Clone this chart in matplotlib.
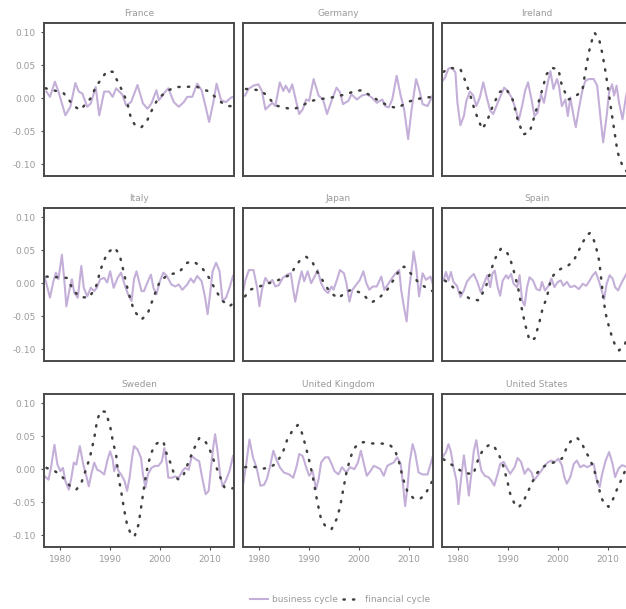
import matplotlib
matplotlib.use("Agg")
import matplotlib.pyplot as plt

# ---- data (year, cycle value) ----
countries = ["France", "Germany", "Ireland", "Italy", "Japan", "Spain",
             "Sweden", "United Kingdom", "United States"]

france_bc_year = [1977.2, 1977.9, 1978.9, 1979.6, 1981.0, 1982.0, 1983.0, 1983.7, 1984.4, 1985.4,
                  1986.1, 1987.1, 1987.8, 1988.8, 1989.8, 1990.5, 1991.2, 1992.5, 1993.2, 1994.2,
                  1995.5, 1996.6, 1997.5, 1998.3, 1999.3, 1999.8, 2001.1, 2001.7, 2002.8, 2003.8,
                  2004.8, 2005.5, 2006.5, 2007.5, 2008.4, 2009.2, 2009.9, 2010.7, 2011.4, 2012.3,
                  2013.3, 2014.3, 2014.8]
france_bc = [0.010, 0.002, 0.025, 0.010, -0.026, -0.013, 0.023, 0.010, 0.007, -0.013,
             -0.008, 0.017, -0.026, 0.010, 0.010, 0.002, 0.015, 0.005, -0.011, -0.006,
             0.020, -0.008, -0.016, -0.008, 0.012, -0.003, 0.010, 0.015, -0.006, -0.013,
             -0.006, 0.002, 0.002, 0.022, 0.012, -0.013, -0.036, -0.008, 0.022, -0.003,
             -0.006, 0.001, 0.002]
france_fc_year = [1977.0, 1978.6, 1980.6, 1982.7, 1984.0, 1986.1, 1987.1, 1988.5, 1989.35, 1990.5,
                  1991.4, 1992.5, 1993.4, 1994.2, 1995.1, 1996.3, 1997.5, 1998.7, 1999.7, 2001.7,
                  2003.4, 2005.1, 2007.2, 2009.9, 2012.3, 2013.6, 2014.8]
france_fc = [0.015, 0.012, 0.008, -0.012, -0.018, 0.000, 0.017, 0.032, 0.041, 0.040,
             0.027, 0.010, -0.006, -0.031, -0.042, -0.044, -0.033, -0.013, 0.000, 0.012,
             0.017, 0.017, 0.018, 0.010, -0.006, -0.012, -0.012]

germany_bc_year = [1977.1, 1977.8, 1978.8, 1979.8, 1980.5, 1981.2, 1981.9, 1982.6, 1983.2, 1984.1,
                   1984.8, 1985.3, 1986.0, 1986.6, 1987.3, 1988.0, 1988.7, 1989.4, 1990.0, 1990.9,
                   1991.9, 1992.8, 1993.6, 1994.5, 1995.5, 1996.2, 1996.8, 1997.9, 1998.5, 1999.6,
                   2000.6, 2001.6, 2002.6, 2003.6, 2004.7, 2005.3, 2006.0, 2006.7, 2007.6, 2008.4,
                   2009.1, 2009.9, 2010.6, 2011.5, 2012.1, 2012.8, 2013.8, 2014.8]
germany_bc = [0.004, 0.014, 0.019, 0.021, 0.011, -0.017, -0.012, -0.007, -0.012, 0.024,
              0.011, 0.019, 0.009, 0.021, -0.002, -0.024, -0.017, -0.002, -0.004, 0.029,
              0.004, -0.002, -0.024, -0.004, 0.016, 0.009, -0.009, -0.004, 0.006, -0.002,
              0.004, 0.006, 0.001, -0.007, -0.002, -0.012, -0.014, -0.002, 0.034, 0.004,
              -0.017, -0.062, -0.017, 0.029, 0.014, -0.009, -0.012, 0.004]
germany_fc_year = [1977.3, 1980.2, 1981.5, 1983.2, 1984.9, 1986.6, 1988.3, 1990.0, 1991.7, 1994.5,
                   1997.5, 1999.2, 2000.6, 2002.3, 2004.0, 2006.0, 2007.7, 2010.1, 2012.5, 2014.8]
germany_fc = [0.014, 0.012, 0.004, -0.011, -0.014, -0.017, -0.013, -0.005, -0.002, 0.001,
              0.006, 0.011, 0.012, 0.004, -0.004, -0.012, -0.015, -0.005, 0.000, 0.002]

ireland_bc_year = [1976.8, 1977.3, 1978.0, 1978.7, 1979.4, 1979.8, 1980.4, 1981.1, 1981.6, 1982.3,
                   1983.0, 1983.6, 1984.3, 1985.0, 1985.7, 1986.4, 1987.0, 1987.9, 1988.5, 1989.2,
                   1989.9, 1990.7, 1991.4, 1992.1, 1992.8, 1993.4, 1994.0, 1994.7, 1995.3, 1995.9,
                   1996.6, 1997.2, 1997.9, 1998.5, 1999.1, 1999.8, 2000.2, 2000.8, 2001.5, 2002.0,
                   2002.5, 2003.2, 2003.6, 2004.2, 2004.9, 2005.5, 2006.2, 2007.2, 2007.9, 2008.6,
                   2009.1, 2009.8, 2010.3, 2010.9, 2011.3, 2011.8, 2012.3, 2013.0, 2013.6, 2014.0,
                   2014.8]
ireland_bc = [0.026, 0.031, 0.045, 0.046, 0.039, -0.007, -0.041, -0.027, -0.004, 0.010,
              0.004, -0.012, 0.001, 0.024, 0.001, -0.019, -0.024, -0.007, 0.004, 0.016,
              0.011, 0.001, -0.014, -0.034, -0.012, 0.011, 0.024, -0.002, -0.027, -0.022,
              0.006, -0.007, 0.021, 0.041, 0.014, 0.029, 0.019, -0.012, -0.002, -0.027,
              0.001, -0.029, -0.044, -0.017, 0.011, 0.026, 0.029, 0.029, 0.019, -0.032,
              -0.067, -0.027, 0.009, 0.021, 0.004, 0.019, -0.007, -0.032, -0.002, 0.014,
              0.010]
ireland_fc_year = [1977.0, 1978.3, 1980.4, 1981.4, 1982.4, 1983.1, 1983.8, 1984.8, 1985.8, 1986.8,
                   1988.2, 1989.6, 1990.9, 1991.9, 1993.0, 1994.3, 1995.3, 1996.7, 1997.7, 1998.7,
                   2000.1, 2000.8, 2002.1, 2003.2, 2004.9, 2005.5, 2006.2, 2007.0, 2007.4, 2008.3,
                   2008.9, 2009.6, 2010.3, 2010.9, 2011.5, 2012.0, 2013.0, 2014.0, 2014.8]
ireland_fc = [0.040, 0.046, 0.044, 0.026, 0.004, -0.014, -0.029, -0.047, -0.034, -0.014,
              0.009, 0.014, -0.002, -0.032, -0.055, -0.052, -0.027, 0.009, 0.036, 0.046,
              0.044, 0.019, -0.002, 0.001, 0.011, 0.039, 0.069, 0.092, 0.099, 0.089,
              0.069, 0.039, 0.004, -0.027, -0.057, -0.082, -0.103, -0.113, -0.115]

italy_bc_year = [1976.9, 1977.4, 1977.9, 1978.6, 1979.1, 1979.6, 1980.3, 1980.8, 1981.2, 1981.9,
                 1982.3, 1982.8, 1983.5, 1984.2, 1984.7, 1985.4, 1986.1, 1986.8, 1987.3, 1988.0,
                 1988.8, 1989.4, 1990.0, 1990.7, 1991.5, 1992.2, 1992.9, 1993.6, 1994.3, 1994.8,
                 1995.3, 1995.7, 1996.3, 1996.8, 1997.6, 1998.2, 1998.7, 1999.3, 2000.0, 2000.7,
                 2001.4, 2002.3, 2003.1, 2003.8, 2004.5, 2005.5, 2006.2, 2006.8, 2007.5, 2008.4,
                 2009.1, 2009.6, 2010.0, 2010.6, 2011.3, 2012.0, 2012.6, 2013.3, 2014.0, 2014.7]
italy_bc = [0.008, -0.007, -0.022, 0.003, 0.016, 0.006, 0.043, 0.003, -0.035, -0.007,
            0.006, -0.015, -0.022, 0.026, -0.007, -0.020, -0.007, -0.012, -0.007, 0.006,
            0.008, 0.001, 0.018, -0.007, 0.008, 0.016, -0.002, -0.017, -0.027, 0.006,
            0.018, 0.006, -0.012, -0.012, 0.003, 0.013, -0.007, -0.017, 0.003, 0.016,
            0.011, -0.002, -0.005, -0.002, -0.010, -0.002, 0.007, 0.001, 0.011, 0.003,
            -0.022, -0.047, -0.022, 0.018, 0.031, 0.018, -0.027, -0.022, -0.007, 0.011]
italy_fc_year = [1977.2, 1981.3, 1982.7, 1984.0, 1985.7, 1987.1, 1988.1, 1989.4, 1990.9, 1991.9,
                 1992.6, 1993.6, 1994.8, 1996.3, 1997.5, 1998.7, 2000.0, 2001.7, 2003.8, 2005.5,
                 2006.8, 2008.5, 2009.9, 2011.3, 2012.6, 2014.0, 2014.8]
italy_fc = [0.010, 0.008, -0.012, -0.021, -0.022, -0.007, 0.021, 0.046, 0.054, 0.043,
            0.021, -0.012, -0.042, -0.055, -0.047, -0.022, 0.003, 0.013, 0.016, 0.031,
            0.033, 0.023, 0.008, -0.012, -0.027, -0.035, -0.030]

japan_bc_year = [1976.8, 1977.2, 1977.9, 1978.8, 1979.5, 1980.0, 1980.5, 1981.2, 1981.9, 1982.6,
                 1983.2, 1983.9, 1984.7, 1985.6, 1986.3, 1986.8, 1987.2, 1987.9, 1988.5, 1989.0,
                 1989.7, 1990.4, 1991.1, 1991.7, 1992.4, 1993.1, 1993.8, 1994.5, 1994.9, 1995.5,
                 1996.2, 1997.0, 1997.5, 1998.1, 1998.7, 1999.4, 2000.2, 2000.9, 2001.5, 2002.1,
                 2002.8, 2003.6, 2004.5, 2005.1, 2006.0, 2006.7, 2007.4, 2008.1, 2008.5, 2009.1,
                 2009.6, 2010.1, 2010.6, 2011.0, 2011.5, 2012.1, 2012.8, 2013.5, 2014.4, 2014.8]
japan_bc = [-0.010, 0.005, 0.020, 0.020, -0.005, -0.035, -0.010, 0.008, 0.000, 0.005,
            -0.005, -0.003, 0.008, 0.013, 0.015, -0.010, -0.028, 0.000, 0.018, 0.003,
            0.018, 0.000, 0.010, 0.020, 0.000, -0.010, -0.015, -0.005, -0.010, 0.003,
            0.020, 0.015, 0.000, -0.028, -0.010, -0.003, 0.005, 0.018, 0.000, -0.010,
            -0.005, -0.005, 0.010, -0.010, 0.000, 0.008, 0.015, 0.020, -0.010, -0.038,
            -0.058, -0.010, 0.020, 0.048, 0.025, -0.020, 0.015, 0.005, 0.010, 0.000]
japan_fc_year = [1977.1, 1978.1, 1981.9, 1983.9, 1986.3, 1987.2, 1988.1, 1989.4, 1990.6, 1991.4,
                 1992.4, 1994.1, 1995.8, 1997.5, 1998.5, 2000.6, 2001.6, 2002.6, 2004.0, 2005.7,
                 2007.4, 2008.4, 2009.1, 2010.4, 2012.1, 2014.2, 2014.8]
japan_fc = [-0.020, -0.010, 0.000, 0.005, 0.013, 0.025, 0.034, 0.040, 0.033, 0.020,
            0.008, -0.013, -0.023, -0.013, -0.010, -0.015, -0.023, -0.029, -0.023, -0.010,
            0.010, 0.023, 0.025, 0.015, 0.000, -0.010, -0.012]

spain_bc_year = [1977.0, 1977.5, 1978.0, 1978.5, 1979.0, 1979.7, 1980.4, 1981.1, 1981.7, 1982.4,
                 1983.1, 1983.8, 1984.5, 1985.1, 1985.8, 1986.4, 1986.8, 1987.3, 1987.9, 1988.4,
                 1988.9, 1989.6, 1990.0, 1990.6, 1991.1, 1991.8, 1992.3, 1992.8, 1993.3, 1993.8,
                 1994.3, 1995.0, 1995.7, 1996.4, 1996.8, 1997.4, 1998.1, 1998.7, 1999.3, 2000.0,
                 2000.6, 2001.1, 2001.8, 2002.5, 2003.4, 2004.2, 2005.0, 2005.7, 2006.4, 2007.0,
                 2007.6, 2008.3, 2008.8, 2009.3, 2009.8, 2010.4, 2011.0, 2011.5, 2012.1, 2012.7,
                 2013.4, 2014.0, 2014.8]
spain_bc = [0.004, 0.017, 0.004, 0.017, 0.002, -0.004, -0.021, -0.011, 0.002, 0.009,
            0.014, 0.002, -0.014, -0.001, 0.012, -0.006, 0.014, 0.019, -0.006, -0.019,
            0.004, 0.012, 0.007, 0.014, -0.001, -0.006, 0.012, -0.026, -0.034, -0.006,
            0.009, 0.004, -0.009, -0.011, 0.002, -0.011, -0.004, 0.007, -0.006, 0.002,
            0.004, -0.004, 0.002, -0.006, -0.004, -0.009, -0.001, -0.004, 0.004, 0.012,
            0.017, 0.002, -0.011, -0.024, -0.001, 0.012, 0.007, -0.006, -0.011, -0.001,
            0.009, 0.017, 0.012]
spain_fc_year = [1977.3, 1979.7, 1982.4, 1984.1, 1985.5, 1986.5, 1987.5, 1988.5, 1989.6, 1990.4,
                 1991.3, 1992.1, 1992.8, 1993.4, 1994.3, 1995.3, 1996.2, 1997.0, 1997.7, 1998.4,
                 1999.1, 2000.0, 2001.1, 2002.1, 2003.2, 2003.8, 2004.7, 2005.7, 2006.4, 2007.0,
                 2007.6, 2008.3, 2008.6, 2009.1, 2009.6, 2010.3, 2010.9, 2011.5, 2012.3, 2013.4,
                 2014.0, 2014.8]
spain_fc = [0.004, -0.011, -0.024, -0.026, -0.006, 0.019, 0.039, 0.052, 0.049, 0.037,
            0.014, -0.011, -0.041, -0.062, -0.087, -0.084, -0.062, -0.036, -0.024, -0.001,
            0.012, 0.019, 0.024, 0.027, 0.034, 0.044, 0.057, 0.072, 0.076, 0.070,
            0.057, 0.034, 0.014, -0.021, -0.046, -0.067, -0.082, -0.094, -0.102, -0.094,
            -0.082, -0.062]

sweden_bc_year = [1976.9, 1977.6, 1978.1, 1978.8, 1979.4, 1980.0, 1980.5, 1981.0, 1981.7, 1982.2,
                  1982.7, 1983.2, 1983.9, 1984.6, 1985.3, 1985.7, 1986.2, 1986.8, 1987.4, 1988.0,
                  1988.8, 1989.5, 1990.0, 1990.5, 1990.8, 1991.2, 1991.7, 1992.2, 1992.9, 1993.4,
                  1993.9, 1994.4, 1994.8, 1995.5, 1996.2, 1996.6, 1997.1, 1997.6, 1998.3, 1999.0,
                  1999.7, 2000.4, 2000.9, 2001.4, 2001.7, 2002.4, 2003.1, 2003.8, 2004.5, 2005.1,
                  2005.8, 2006.4, 2007.2, 2007.9, 2008.5, 2009.2, 2009.8, 2010.2, 2010.7, 2011.1,
                  2011.6, 2012.1, 2012.6, 2013.2, 2014.0, 2014.7]
sweden_bc = [-0.011, -0.016, 0.002, 0.037, 0.007, -0.003, 0.002, -0.018, -0.031, -0.013,
             0.010, 0.007, 0.035, 0.007, -0.013, -0.026, -0.008, 0.010, -0.001, -0.003,
             -0.008, 0.015, 0.027, 0.015, -0.003, 0.007, -0.003, -0.008, -0.018, -0.033,
             -0.013, 0.017, 0.035, 0.030, 0.017, -0.008, -0.028, -0.008, 0.002, 0.005,
             0.005, 0.012, 0.032, 0.007, -0.013, -0.013, -0.011, -0.013, -0.003, 0.002,
             -0.001, 0.020, 0.015, 0.012, -0.013, -0.038, -0.033, -0.003, 0.032, 0.053,
             0.027, -0.008, -0.026, -0.018, -0.003, 0.020]
sweden_fc_year = [1977.2, 1978.9, 1980.3, 1982.0, 1983.2, 1984.2, 1985.1, 1985.9, 1986.8, 1987.4,
                  1988.1, 1989.1, 1990.0, 1990.6, 1991.2, 1991.7, 1992.2, 1992.8, 1993.4, 1994.2,
                  1994.9, 1995.7, 1996.3, 1997.0, 1997.6, 1998.3, 1999.0, 2000.0, 2000.7, 2001.4,
                  2002.1, 2003.0, 2003.8, 2004.8, 2005.8, 2006.8, 2007.9, 2008.9, 2009.9, 2010.9,
                  2011.9, 2013.0, 2014.0, 2014.8]
sweden_fc = [0.002, -0.003, -0.011, -0.026, -0.031, -0.021, -0.001, 0.017, 0.047, 0.075,
             0.088, 0.087, 0.065, 0.040, 0.022, -0.013, -0.033, -0.061, -0.084, -0.099,
             -0.102, -0.084, -0.054, -0.018, 0.007, 0.025, 0.037, 0.042, 0.042, 0.022,
             0.010, -0.011, -0.016, -0.008, 0.012, 0.030, 0.047, 0.045, 0.032, 0.012,
             -0.008, -0.028, -0.029, -0.029]

uk_bc_year = [1976.8, 1977.3, 1978.0, 1978.7, 1979.4, 1980.2, 1980.9, 1981.5, 1982.1, 1982.8,
              1983.4, 1984.1, 1984.9, 1986.0, 1986.8, 1987.5, 1988.0, 1988.7, 1989.4, 1990.0,
              1990.7, 1991.4, 1991.9, 1992.4, 1993.2, 1993.9, 1994.5, 1995.1, 1995.9, 1996.6,
              1997.5, 1998.2, 1999.1, 1999.8, 2000.4, 2001.1, 2001.6, 2002.3, 2003.0, 2003.6,
              2004.3, 2005.0, 2005.7, 2006.4, 2007.0, 2007.7, 2008.4, 2008.9, 2009.3, 2009.8,
              2010.2, 2010.8, 2011.3, 2012.0, 2012.8, 2013.8, 2014.5, 2014.8]
uk_bc = [-0.020, 0.005, 0.045, 0.018, 0.003, -0.025, -0.024, -0.015, 0.003, 0.028,
         0.015, 0.003, -0.005, -0.008, -0.013, 0.005, 0.023, 0.020, 0.003, -0.010,
         -0.003, -0.030, -0.015, 0.010, 0.018, 0.018, 0.008, -0.003, -0.008, 0.003,
         -0.005, 0.003, 0.000, 0.010, 0.028, 0.005, -0.010, -0.003, 0.005, 0.003,
         0.000, -0.010, 0.005, 0.008, 0.010, 0.018, 0.008, -0.025, -0.056, -0.025,
         0.010, 0.038, 0.025, -0.005, -0.008, -0.008, 0.010, 0.018]
uk_fc_year = [1977.1, 1978.1, 1979.5, 1980.9, 1982.2, 1983.2, 1984.6, 1985.6, 1986.6, 1987.7,
              1988.5, 1989.0, 1989.8, 1990.7, 1991.6, 1992.4, 1993.4, 1994.5, 1995.5, 1996.2,
              1996.8, 1997.5, 1998.2, 1998.9, 1999.8, 2000.9, 2002.6, 2004.3, 2006.0, 2007.2,
              2008.1, 2008.9, 2009.8, 2011.1, 2012.3, 2013.4, 2014.2, 2014.8]
uk_fc = [0.003, 0.004, 0.003, 0.001, 0.003, 0.008, 0.023, 0.045, 0.058, 0.067,
         0.056, 0.043, 0.020, -0.010, -0.048, -0.076, -0.088, -0.091, -0.076, -0.058,
         -0.033, -0.005, 0.015, 0.030, 0.038, 0.041, 0.039, 0.039, 0.038, 0.030,
         0.010, -0.015, -0.035, -0.045, -0.045, -0.038, -0.025, -0.018]

us_bc_year = [1976.8, 1977.5, 1978.0, 1978.5, 1979.0, 1979.6, 1980.0, 1980.5, 1981.1, 1981.6,
              1982.1, 1982.6, 1983.1, 1983.6, 1984.1, 1984.6, 1985.3, 1986.0, 1986.6, 1987.2,
              1987.9, 1988.4, 1989.1, 1989.8, 1990.4, 1991.3, 1991.9, 1992.6, 1993.3, 1994.0,
              1994.7, 1995.2, 1995.9, 1996.7, 1997.4, 1998.1, 1998.7, 1999.4, 2000.1, 2000.8,
              2001.3, 2001.8, 2002.5, 2003.2, 2003.8, 2004.5, 2005.2, 2005.9, 2006.6, 2007.2,
              2007.9, 2008.4, 2008.9, 2009.6, 2010.3, 2011.0, 2011.5, 2012.2, 2012.9, 2014.0,
              2014.8]
us_bc = [0.018, 0.026, 0.038, 0.026, 0.003, -0.017, -0.053, -0.017, 0.021, -0.007,
         -0.040, -0.007, 0.028, 0.044, 0.018, -0.002, -0.010, -0.012, -0.017, -0.025,
         -0.007, 0.008, 0.011, 0.001, -0.007, 0.003, 0.017, 0.011, -0.007, 0.001,
         -0.005, -0.017, -0.010, -0.002, 0.006, 0.011, 0.013, 0.011, 0.016, 0.006,
         -0.012, -0.022, -0.012, 0.008, 0.013, 0.003, 0.006, 0.003, 0.006, 0.008,
         -0.020, -0.027, -0.007, 0.013, 0.026, 0.008, -0.012, 0.001, 0.006, 0.003,
         0.005]
us_fc_year = [1977.0, 1979.0, 1981.0, 1983.0, 1984.1, 1985.1, 1986.4, 1987.3, 1988.2, 1989.1,
              1989.8, 1990.4, 1991.3, 1992.1, 1993.0, 1993.8, 1994.7, 1995.7, 1996.7, 1998.1,
              1999.6, 2000.8, 2001.5, 2002.1, 2002.8, 2003.8, 2004.7, 2005.5, 2006.4, 2007.2,
              2007.9, 2008.6, 2009.3, 2010.2, 2011.0, 2011.8, 2012.7, 2013.7, 2014.8]
us_fc = [0.015, 0.005, -0.005, -0.008, 0.018, 0.031, 0.038, 0.033, 0.021, 0.003,
         -0.017, -0.037, -0.053, -0.058, -0.050, -0.037, -0.022, -0.007, 0.002, 0.008,
         0.011, 0.016, 0.028, 0.038, 0.044, 0.048, 0.041, 0.028, 0.016, 0.001,
         -0.017, -0.040, -0.053, -0.057, -0.047, -0.032, -0.017, 0.001, 0.015]

bc_years = [france_bc_year, germany_bc_year, ireland_bc_year, italy_bc_year, japan_bc_year,
            spain_bc_year, sweden_bc_year, uk_bc_year, us_bc_year]
bc_vals = [france_bc, germany_bc, ireland_bc, italy_bc, japan_bc,
           spain_bc, sweden_bc, uk_bc, us_bc]
fc_years = [france_fc_year, germany_fc_year, ireland_fc_year, italy_fc_year, japan_fc_year,
            spain_fc_year, sweden_fc_year, uk_fc_year, us_fc_year]
fc_vals = [france_fc, germany_fc, ireland_fc, italy_fc, japan_fc,
           spain_fc, sweden_fc, uk_fc, us_fc]

y_ticks = [0.10, 0.05, 0.00, -0.05, -0.10]
y_labels = ["0.10", "0.05", "0.00", "-0.05", "-0.10"]
x_ticks = [1980, 1990, 2000, 2010]

# ---- style ----
bc_color = "#c4afd9"
fc_color = "#404040"
frame_color = "#4a4a4a"
text_color = "#9a9a9a"

W, H = 626, 609
fig = plt.figure(figsize=(W / 100, H / 100), dpi=100)

col_left = [44, 243, 442]
row_top = [23, 208, 394]
ax_w, ax_h = 190, 153

for i, name in enumerate(countries):
    r, c = divmod(i, 3)
    ax = fig.add_axes([col_left[c] / W, 1 - (row_top[r] + ax_h) / H, ax_w / W, ax_h / H])
    ax.plot(bc_years[i], bc_vals[i], color=bc_color, lw=1.5, label="business cycle")
    ax.plot(fc_years[i], fc_vals[i], color=fc_color, lw=1.8,
            linestyle=(0, (0.5, 3.3)), dash_capstyle="round", label="financial cycle")
    ax.set_xlim(1976.7, 2014.9)
    ax.set_ylim(-0.118, 0.114)
    for s in ax.spines.values():
        s.set_color(frame_color)
        s.set_linewidth(1.4)
    ax.set_title(name, fontsize=6.5, color=text_color, pad=5)
    ax.tick_params(colors=frame_color, labelcolor=text_color, labelsize=6.5,
                   length=2.5, width=0.8)
    ax.set_yticks(y_ticks)
    ax.set_xticks(x_ticks)
    if c == 0:
        ax.set_yticklabels(y_labels)
    else:
        ax.tick_params(axis="y", left=False, labelleft=False)
    if r < 2:
        ax.tick_params(axis="x", bottom=False, labelbottom=False)
    if i == 0:
        handles, labels = ax.get_legend_handles_labels()

fig.legend(handles, labels, loc="center", bbox_to_anchor=(340 / W, 1 - 600 / H),
           ncol=2, frameon=False, fontsize=6.5, labelcolor=text_color,
           handlelength=2.0, columnspacing=0.6, handletextpad=0.4)

fig.savefig("out.png", dpi=100)
